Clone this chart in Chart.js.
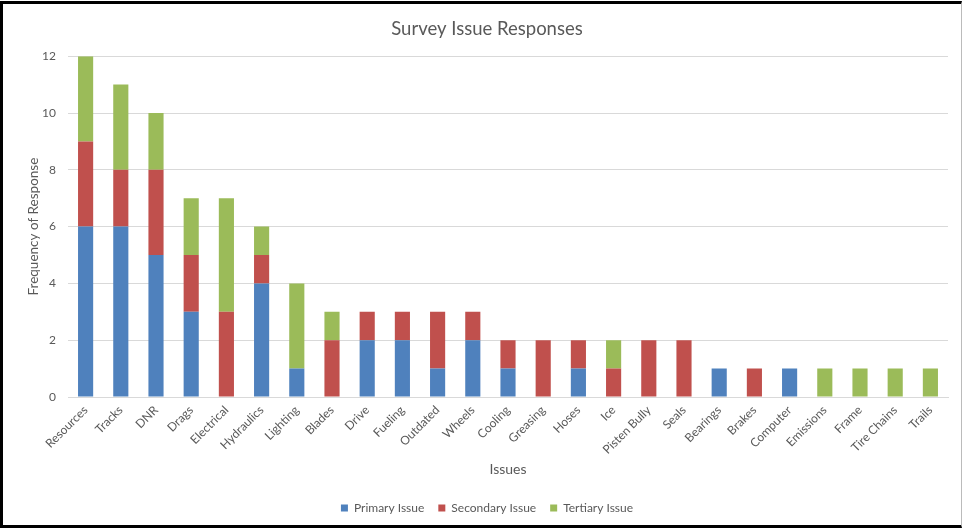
<!DOCTYPE html>
<html>
<head>
<meta charset="utf-8">
<script src="https://cdn.jsdelivr.net/npm/chart.js@4.4.1/dist/chart.umd.min.js"></script>
<style>
  html, body { margin: 0; padding: 0; background: #fff; }
  #wrap { position: relative; width: 964px; height: 531px; overflow: hidden; }
  #c { position: absolute; left: 0; top: 0; }
  #frame { position: absolute; left: 0; top: 1px; width: 962px; height: 527px;
           border-top: 3px solid #000; border-left: 3px solid #000; border-bottom: 3px solid #000;
           border-right: 1px solid #bbb; box-sizing: border-box; pointer-events: none; }
</style>
</head>
<body>
<div id="wrap">
  <canvas id="c" width="964" height="531"></canvas>
  <div id="frame"></div>
</div>
<script>
const categories = ["Resources","Tracks","DNR","Drags","Electrical","Hydraulics","Lighting","Blades","Drive","Fueling","Outdated","Wheels","Cooling","Greasing","Hoses","Ice","Pisten Bully","Seals","Bearings","Brakes","Computer","Emissions","Frame","Tire Chains","Trails"];
const primaryIssue   = [6,6,5,3,0,4,1,0,2,2,1,2,1,0,1,0,0,0,1,0,1,0,0,0,0];
const secondaryIssue = [3,2,3,2,3,1,0,2,1,1,2,1,1,2,1,1,2,2,0,1,0,0,0,0,0];
const tertiaryIssue  = [3,3,2,2,4,1,3,1,0,0,0,0,0,0,0,1,0,0,0,0,0,1,1,1,1];
const seriesNames = ["Primary Issue","Secondary Issue","Tertiary Issue"];
const yTicks = [0,2,4,6,8,10,12];

const FONT = "Lato, 'Open Sans', 'Liberation Sans', sans-serif";
const GREY = "#595959";

new Chart(document.getElementById('c'), {
  type: 'bar',
  data: {
    labels: categories,
    datasets: [
      { label: seriesNames[0], data: primaryIssue,   backgroundColor: '#4F81BD' },
      { label: seriesNames[1], data: secondaryIssue, backgroundColor: '#C0504D' },
      { label: seriesNames[2], data: tertiaryIssue,  backgroundColor: '#9BBB59' }
    ]
  },
  options: {
    responsive: false,
    animation: false,
    datasets: { bar: { barPercentage: 0.43, categoryPercentage: 1.0 } },
    layout: { padding: { left: 26, right: 16, top: 14, bottom: 7 } },
    plugins: {
      title: {
        display: true, text: 'Survey Issue Responses', color: GREY,
        font: { family: FONT, size: 18.5, weight: 'normal' },
        padding: { top: 4, bottom: 16 }
      },
      legend: {
        position: 'bottom',
        labels: { color: GREY, boxWidth: 7, boxHeight: 7, padding: 14,
                  font: { family: FONT, size: 12 } }
      },
      tooltip: { enabled: false }
    },
    scales: {
      x: {
        stacked: true,
        grid: { display: false, drawTicks: false },
        border: { display: true, color: '#d9d9d9' },
        ticks: { color: GREY, maxRotation: 45, minRotation: 45, autoSkip: false,
                 padding: 6, font: { family: FONT, size: 12 } },
        title: { display: true, text: 'Issues', color: GREY,
                 font: { family: FONT, size: 14 }, padding: { top: 2, bottom: 10 } },
        afterFit: s => { s.height = 91; }
      },
      y: {
        stacked: true,
        min: 0, max: 12,
        afterBuildTicks: s => { s.ticks = yTicks.map(v => ({ value: v })); },
        grid: { color: '#d9d9d9', drawTicks: false },
        border: { display: false },
        ticks: { color: GREY, padding: 12, font: { family: FONT, size: 12 } },
        title: { display: true, text: 'Frequency of Response', color: GREY,
                 font: { family: FONT, size: 13.5 }, padding: { top: 0, bottom: 4 } },
        afterFit: s => { s.width = 42; }
      }
    }
  }
});
</script>
</body>
</html>
